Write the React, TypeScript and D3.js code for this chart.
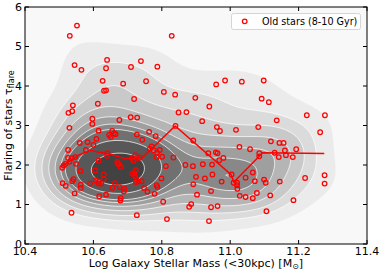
import * as d3 from "d3";

// tick values
const massTicks = [10.4, 10.6, 10.8, 11.0, 11.2, 11.4];
const flareTicks = [0, 1, 2, 3, 4, 5, 6];

// old stars (8-10 Gyr): log stellar mass and flaring
const starMass = [
  10.531, 10.552, 10.545, 10.565, 10.64, 10.637, 10.627, 10.631, 10.637, 10.71,
  10.739, 10.787, 10.754, 10.687, 10.806, 10.839, 10.829, 10.719, 10.613, 10.54,
  10.538, 10.527, 10.849, 10.872, 10.53, 10.597, 10.597, 10.676, 10.709, 10.728,
  10.615, 10.655, 10.66, 10.763, 10.782, 10.84, 10.985, 10.959, 11.034, 11.098,
  10.898, 10.939, 11.092, 11.113, 10.918, 10.961, 10.97, 11.017, 11.082, 11.136,
  11.224, 11.277, 11.263,
  10.646, 10.651, 10.665, 10.727, 10.56, 10.583, 10.609, 10.6, 10.526, 10.578,
  10.641, 10.64, 10.526, 10.536, 10.547, 10.53, 10.518, 10.513, 10.549, 10.615,
  10.671, 10.674, 10.67, 10.68, 10.713, 10.727, 10.717, 10.723, 10.743, 10.892,
  10.77, 10.765, 10.777, 10.794, 10.736, 10.786, 10.785, 10.801, 10.834, 10.936,
  10.958, 10.963, 10.98, 10.968, 11.027, 11.058, 11.085, 11.085, 11.13, 11.16,
  11.163, 11.142, 11.183, 11.193, 11.119, 11.144, 11.156, 10.812, 10.869, 10.891,
  10.92, 10.947,
  10.509, 10.562, 10.605, 10.63, 10.63, 10.542, 10.538, 10.51, 10.519, 10.563,
  10.563, 10.59, 10.607, 10.616, 10.615, 10.623, 10.545, 10.617, 10.637, 10.663,
  10.656, 10.677, 10.69, 10.689, 10.68, 10.679, 10.536, 10.72, 10.724, 10.722,
  10.725, 10.724, 10.731, 10.741, 10.727, 10.713, 10.748, 10.758, 10.799, 10.785,
  10.787, 10.779, 10.804, 10.815, 10.88, 10.886, 10.903, 10.892, 10.9, 10.926,
  10.948, 10.975, 10.944, 10.944, 10.963, 10.938, 11.01, 11.02, 11.02, 11.004,
  11.021, 11.028, 11.045, 11.066, 11.078, 11.066, 11.045, 11.072, 11.099, 11.104,
  11.117, 11.145, 11.106, 11.185, 11.219, 11.276, 11.276,
];
const starFlare = [
  5.27, 5.53, 4.53, 4.41, 4.66, 4.45, 4.13, 3.88, 3.89, 4.48,
  4.63, 4.49, 4.12, 4.06, 3.85, 3.78, 5.27, 3.67, 3.55, 3.51,
  3.36, 3.32, 3.33, 3.34, 2.94, 3.17, 3.04, 3.14, 3.21, 3.2,
  2.87, 2.86, 2.8, 2.84, 2.73, 2.99, 4.14, 4.04, 4.11, 4.14,
  3.7, 3.48, 3.68, 3.59, 3.11, 2.96, 2.86, 2.89, 2.96, 3.13,
  3.26, 3.26, 2.83,
  2.76, 2.71, 2.78, 2.77, 2.56, 2.58, 2.66, 2.51, 2.38, 2.38,
  2.3, 2.23, 2.18, 2.17, 2.2, 2.08, 2.03, 1.99, 2.03, 2.11,
  2.04, 2.02, 2.08, 1.95, 2.18, 2.18, 2.11, 2.25, 2.64, 2.62,
  2.47, 2.41, 2.37, 2.38, 2.19, 2.31, 2.2, 2.21, 2.19, 2.3,
  2.32, 2.3, 2.18, 2.12, 2.46, 2.4, 2.3, 2.22, 2.31, 2.37,
  2.25, 2.2, 2.2, 2.4, 2.6, 2.56, 2.56, 1.97, 2.0, 1.97,
  2.02, 2.01,
  1.93, 1.85, 1.86, 1.76, 1.64, 1.64, 1.59, 1.54, 1.47, 1.5,
  1.42, 1.53, 1.61, 1.58, 1.53, 1.53, 1.28, 1.21, 1.25, 1.54,
  1.42, 1.44, 1.4, 1.33, 1.16, 1.1, 0.79, 1.79, 1.87, 1.72,
  1.64, 1.57, 1.58, 1.59, 0.73, 1.78, 1.42, 1.32, 1.66, 1.49,
  1.44, 1.27, 1.07, 0.63, 0.94, 1.01, 1.25, 1.51, 1.7, 1.66,
  1.76, 1.58, 1.34, 0.93, 0.96, 0.58, 1.55, 1.55, 1.49, 1.76,
  1.4, 1.22, 1.19, 1.16, 1.29, 1.81, 1.68, 1.59, 1.63, 1.55,
  1.23, 1.58, 0.83, 1.11, 1.67, 1.74, 1.53,
];

// running median line
const medianMass = [10.508, 10.555, 10.59, 10.613, 10.643, 10.692, 10.735, 10.745, 10.839, 11.002, 11.011, 11.085, 11.095, 11.275];
const medianFlare = [1.97, 2.24, 2.37, 2.33, 2.29, 2.16, 2.18, 2.2, 2.99, 1.76, 1.57, 2.22, 2.31, 2.29];

// density levels: fraction of mass enclosed, and their greys
const enclosed = [0.93, 0.82, 0.71, 0.6, 0.49, 0.38, 0.27, 0.17, 0.07];
const bandColors = ["#ebebeb", "#dbdbdb", "#c9c9c9", "#b5b5b5", "#9f9f9f", "#888888", "#707070", "#585858", "#424242"];

const legendLabel = "Old stars (8-10 Gyr)";

const W = 382;
const H = 274;
const left = 25;
const right = 367;
const top = 7;
const bottom = 244;
const font = "DejaVu Sans, sans-serif";

export default function App() {
  const x = d3.scaleLinear().domain([10.4, 11.4]).range([left, right]);
  const y = d3.scaleLinear().domain([0, 6]).range([bottom, top]);

  // gaussian KDE on a grid over the axes
  const nx = 171;
  const ny = 119;
  const hx = 0.08;
  const hy = 0.5;
  const cw = (right - left) / nx;
  const ch = (bottom - top) / ny;
  const values: number[] = new Array(nx * ny).fill(0);
  for (let j = 0; j < ny; j++) {
    const gy = y.invert(top + (j + 0.5) * ch);
    for (let i = 0; i < nx; i++) {
      const gx = x.invert(left + (i + 0.5) * cw);
      let s = 0;
      for (let k = 0; k < starMass.length; k++) {
        const dx = (gx - starMass[k]) / hx;
        const dy = (gy - starFlare[k]) / hy;
        s += Math.exp(-0.5 * (dx * dx + dy * dy));
      }
      values[j * nx + i] = s;
    }
  }
  const sorted = values.slice().sort((a, b) => b - a);
  const total = d3.sum(sorted);
  const levels = enclosed.map((p) => {
    let c = 0;
    for (const v of sorted) {
      c += v;
      if (c >= p * total) return v;
    }
    return sorted[sorted.length - 1];
  });
  const bands = d3.contours().size([nx, ny]).thresholds(levels)(values);
  const toPx = d3.geoTransform({
    point(px: number, py: number) {
      this.stream.point(left + px * cw, top + py * ch);
    },
  });
  const path = d3.geoPath(toPx);

  const line = d3
    .line<number>()
    .x((_, i) => x(medianMass[i]))
    .y((_, i) => y(medianFlare[i]));

  return (
    <svg width={W} height={H} style={{ position: "absolute", left: 0, top: 0, background: "#fff" }} fontFamily={font}>
      <defs>
        <clipPath id="plot">
          <rect x={left} y={top} width={right - left} height={bottom - top} />
        </clipPath>
      </defs>
      <rect x={left} y={top} width={right - left} height={bottom - top} fill="#f8f8f8" />
      <g clipPath="url(#plot)">
        {bands.map((b, i) => (
          <path key={i} d={path(b as any) || ""} fill={bandColors[i]} stroke="#fff" strokeWidth={0.8} strokeOpacity={i === 0 ? 0 : 0.9} />
        ))}
        <path d={line(medianMass) || ""} fill="none" stroke="#ff0000" strokeWidth={1.5} />
        {starMass.map((m, i) => (
          <circle key={i} cx={x(m)} cy={y(starFlare[i])} r={2.3} fill="none" stroke="#ff0000" strokeWidth={1.25} />
        ))}
      </g>

      {/* spines */}
      <rect x={left} y={top} width={right - left} height={bottom - top} fill="none" stroke="#000" strokeWidth={1} />

      {/* ticks, inward on all four sides */}
      {massTicks.map((t) => (
        <g key={t}>
          <line x1={x(t)} x2={x(t)} y1={bottom} y2={bottom - 4} stroke="#000" />
          <line x1={x(t)} x2={x(t)} y1={top} y2={top + 4} stroke="#000" />
          <text x={x(t)} y={255} textAnchor="middle" fontSize={11}>
            {t.toFixed(1)}
          </text>
        </g>
      ))}
      {flareTicks.map((t) => (
        <g key={t}>
          <line x1={left} x2={left + 4} y1={y(t)} y2={y(t)} stroke="#000" />
          <line x1={right} x2={right - 4} y1={y(t)} y2={y(t)} stroke="#000" />
          <text x={22} y={y(t)} dy="0.36em" textAnchor="end" fontSize={11}>
            {t}
          </text>
        </g>
      ))}

      <text x={(left + right) / 2} y={267} textAnchor="middle" fontSize={11}>
        Log Galaxy Stellar Mass (&lt;30kpc) [M
        <tspan fontSize={8} dy={2}>⊙</tspan>
        <tspan dy={-2}>]</tspan>
      </text>
      <text transform={`translate(11.5,${(top + bottom) / 2}) rotate(-90)`} textAnchor="middle" fontSize={11}>
        Flaring of stars τ<tspan fontSize={8} dy={2}>flare</tspan>
      </text>

      {/* legend */}
      <rect x={231.5} y={13.5} width={129} height={16} rx={2} fill="#fff" fillOpacity={0.8} stroke="#cccccc" strokeWidth={0.8} />
      <circle cx={244.7} cy={21.3} r={2.3} fill="none" stroke="#ff0000" strokeWidth={1.25} />
      <text x={262} y={21.3} dy="0.36em" fontSize={9.6}>
        {legendLabel}
      </text>
    </svg>
  );
}
